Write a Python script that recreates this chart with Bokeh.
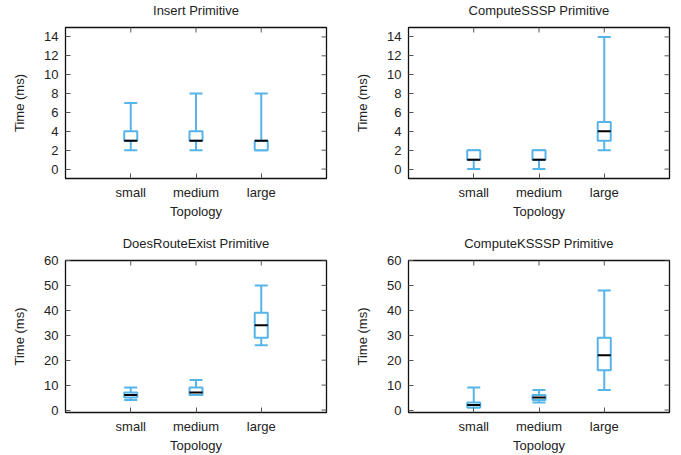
import math
from bokeh.plotting import figure
from bokeh.layouts import column, row
from bokeh.models import LinearAxis, FixedTicker, Range1d, ColumnDataSource
from bokeh.embed import file_html
from bokeh.resources import INLINE

categories = ["small", "medium", "large"]
positions = [1, 2, 3]

titles = ["Insert Primitive", "ComputeSSSP Primitive",
          "DoesRouteExist Primitive", "ComputeKSSSP Primitive"]

insert_min = [2, 2, 2]
insert_q1 = [3, 3, 2]
insert_med = [3, 3, 3]
insert_q3 = [4, 4, 3]
insert_max = [7, 8, 8]

sssp_min = [0, 0, 2]
sssp_q1 = [1, 1, 3]
sssp_med = [1, 1, 4]
sssp_q3 = [2, 2, 5]
sssp_max = [2, 2, 14]

route_min = [4, 6, 26]
route_q1 = [5, 6, 29]
route_med = [6, 7, 34]
route_q3 = [7, 9, 39]
route_max = [9, 12, 50]

ksssp_min = [1, 3, 8]
ksssp_q1 = [1, 4, 16]
ksssp_med = [2, 5, 22]
ksssp_q3 = [3, 6, 29]
ksssp_max = [9, 8, 48]

small_ticks = [0, 2, 4, 6, 8, 10, 12, 14]
large_ticks = [0, 10, 20, 30, 40, 50, 60]

BLUE = "#56B4E9"
FONT = "Liberation Sans"
BOX_W = 0.2
TXT = "#222222"
TICK = "#555555"


def make(title, mins, q1, med, q3, maxs, yr, ticks, width, height,
         left, right, top, bottom):
    xr = (0, 4)
    p = figure(width=width, height=height, output_backend="svg",
               toolbar_location=None, x_range=Range1d(*xr),
               y_range=Range1d(*yr), min_border_left=left,
               min_border_right=right, min_border_top=top,
               min_border_bottom=bottom, x_axis_location=None,
               y_axis_location=None)
    p.title.text = title
    p.title.align = "center"
    p.title.text_font = FONT
    p.title.text_font_size = "13px"
    p.title.text_font_style = "normal"
    p.title.text_color = TXT
    p.title.standoff = 0
    p.title.padding = dict(left=0, right=0, top=0, bottom=10)
    p.grid.visible = False
    p.outline_line_color = "#111111"
    p.outline_line_width = 1.3
    p.background_fill_color = "white"
    p.border_fill_color = "white"

    # mirrored inward ticks on top and right edges (half of each dash is clipped)
    p.scatter(x=positions, y=[yr[1]] * len(positions), marker="dash",
              size=10, angle=math.pi / 2, line_color=TICK, line_width=1)
    p.scatter(x=[xr[1]] * len(ticks), y=ticks, marker="dash",
              size=10, line_color=TICK, line_width=1)

    src = ColumnDataSource(dict(x=positions, mn=mins, q1=q1, med=med,
                                q3=q3, mx=maxs,
                                xl=[x - BOX_W / 2 for x in positions],
                                xr=[x + BOX_W / 2 for x in positions]))
    p.segment(x0="x", y0="q3", x1="x", y1="mx", source=src,
              line_color=BLUE, line_width=2)
    p.segment(x0="x", y0="mn", x1="x", y1="q1", source=src,
              line_color=BLUE, line_width=2)
    p.segment(x0="xl", y0="mx", x1="xr", y1="mx", source=src,
              line_color=BLUE, line_width=2)
    p.segment(x0="xl", y0="mn", x1="xr", y1="mn", source=src,
              line_color=BLUE, line_width=2)
    p.quad(left="xl", right="xr", bottom="q1", top="q3", source=src,
           fill_color="white", line_color=BLUE, line_width=2)
    p.segment(x0="xl", y0="med", x1="xr", y1="med", source=src,
              line_color="black", line_width=2)

    def style(ax):
        ax.major_tick_in = 5
        ax.major_tick_out = 0
        ax.minor_tick_in = 0
        ax.minor_tick_out = 0
        ax.axis_line_color = "#111111"
        ax.major_tick_line_color = TICK
        ax.major_tick_line_width = 1
        ax.major_label_text_font = FONT
        ax.major_label_text_font_size = "13px"
        ax.major_label_text_color = TXT
        ax.axis_label_text_font = FONT
        ax.axis_label_text_font_size = "13px"
        ax.axis_label_text_font_style = "normal"
        ax.axis_label_text_color = TXT

    xb = LinearAxis(ticker=FixedTicker(ticks=positions), axis_label="Topology")
    xb.major_label_overrides = {p_: c for p_, c in zip(positions, categories)}
    style(xb)
    xb.major_label_standoff = 6
    xb.axis_label_standoff = 1
    p.add_layout(xb, "below")

    yl = LinearAxis(ticker=FixedTicker(ticks=ticks), axis_label="Time (ms)")
    style(yl)
    yl.major_label_standoff = 7
    yl.axis_label_standoff = 14
    p.add_layout(yl, "left")
    return p


p1 = make(titles[0], insert_min, insert_q1, insert_med, insert_q3, insert_max,
          (-1, 15), small_ticks, 343, 233, 65, 17, 0, 55)
p2 = make(titles[1], sssp_min, sssp_q1, sssp_med, sssp_q3, sssp_max,
          (-1, 15), small_ticks, 336, 233, 65, 10, 0, 55)
p3 = make(titles[2], route_min, route_q1, route_med, route_q3, route_max,
          (-1, 60), large_ticks, 343, 222, 65, 17, 0, 43)
p4 = make(titles[3], ksssp_min, ksssp_q1, ksssp_med, ksssp_q3, ksssp_max,
          (-1, 60), large_ticks, 336, 222, 65, 10, 0, 43)

layout = column(row(p1, p2), row(p3, p4))

open("out.html", "w").write(file_html(layout, INLINE))
